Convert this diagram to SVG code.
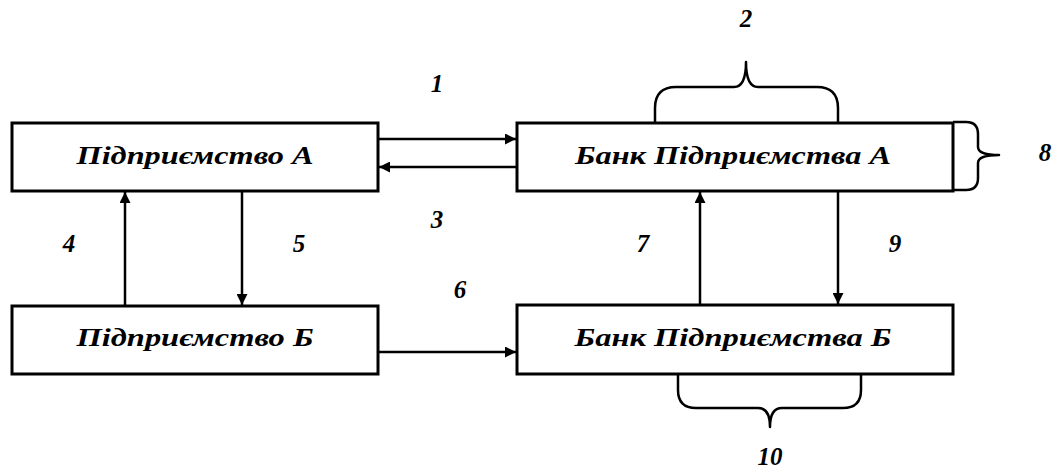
<svg xmlns="http://www.w3.org/2000/svg" width="1057" height="470" viewBox="0 0 1057 470">
<style>
.box{fill:#fff;stroke:#000;stroke-width:3}
.t{font-family:"Liberation Serif","DejaVu Serif",serif;font-style:italic;font-weight:bold;font-size:26px;text-anchor:middle;fill:#000}
.n{font-family:"Liberation Serif","DejaVu Serif",serif;font-style:italic;font-weight:bold;font-size:25px;text-anchor:middle;fill:#000}
.c{stroke:#000;stroke-width:2.5;fill:none}
.br{stroke:#000;stroke-width:2.5;fill:none;stroke-linejoin:round}
</style>
<defs>
<marker id="ah" viewBox="0 0 10 10" refX="10" refY="5" markerWidth="4.4" markerHeight="4.4" markerUnits="strokeWidth" orient="auto">
<path d="M0,0 L10,5 L0,10 z" fill="#000"/>
</marker>
</defs>
<g id="node-pidpr-a">
<rect class="box" x="12" y="123" width="366" height="68"/>
<text class="t" x="195" y="164" textLength="237" lengthAdjust="spacingAndGlyphs">Підприємство А</text>
</g>
<g id="node-bank-a">
<rect class="box" x="517" y="123" width="436" height="68"/>
<text class="t" x="733" y="164" textLength="316" lengthAdjust="spacingAndGlyphs">Банк Підприємства А</text>
</g>
<g id="node-pidpr-b">
<rect class="box" x="12" y="306" width="366" height="68"/>
<text class="t" x="195" y="346" textLength="237" lengthAdjust="spacingAndGlyphs">Підприємство Б</text>
</g>
<g id="node-bank-b">
<rect class="box" x="517" y="305" width="436" height="69"/>
<text class="t" x="733" y="346" textLength="317" lengthAdjust="spacingAndGlyphs">Банк Підприємства Б</text>
</g>
<g id="connectors">
<line class="c" x1="378" y1="139" x2="516" y2="139" marker-end="url(#ah)"/>
<line class="c" x1="517" y1="167" x2="379" y2="167" marker-end="url(#ah)"/>
<line class="c" x1="125" y1="306" x2="125" y2="192" marker-end="url(#ah)"/>
<line class="c" x1="242" y1="191" x2="242" y2="305" marker-end="url(#ah)"/>
<line class="c" x1="378" y1="352" x2="516" y2="352" marker-end="url(#ah)"/>
<line class="c" x1="700" y1="305" x2="700" y2="192" marker-end="url(#ah)"/>
<line class="c" x1="838" y1="191" x2="838" y2="304" marker-end="url(#ah)"/>
</g>
<g id="braces">
<path class="br" d="M655,123 L655,108 Q655,87 676,87 L734,87 Q746,87 746,62 Q746,87 758,87 L817,87 Q838,87 838,108 L838,123"/>
<path class="br" d="M953,122 L966,122 Q978,122 978,134 L978,147 Q978,155 999,155 Q978,155 978,163 L978,178 Q978,190 966,190 L953,190"/>
<path class="br" d="M678,374 L678,390 Q678,408 696,408 L758,408 Q770,408 770,427 Q770,408 782,408 L843,408 Q861,408 861,390 L861,374"/>
</g>
<g id="labels">
<text class="n" x="437" y="92">1</text>
<text class="n" x="746" y="27">2</text>
<text class="n" x="437" y="228">3</text>
<text class="n" x="69" y="252">4</text>
<text class="n" x="299" y="252">5</text>
<text class="n" x="460" y="298">6</text>
<text class="n" x="643" y="252">7</text>
<text class="n" x="1045" y="161">8</text>
<text class="n" x="895" y="252">9</text>
<text class="n" x="770" y="465">10</text>
</g>
</svg>
